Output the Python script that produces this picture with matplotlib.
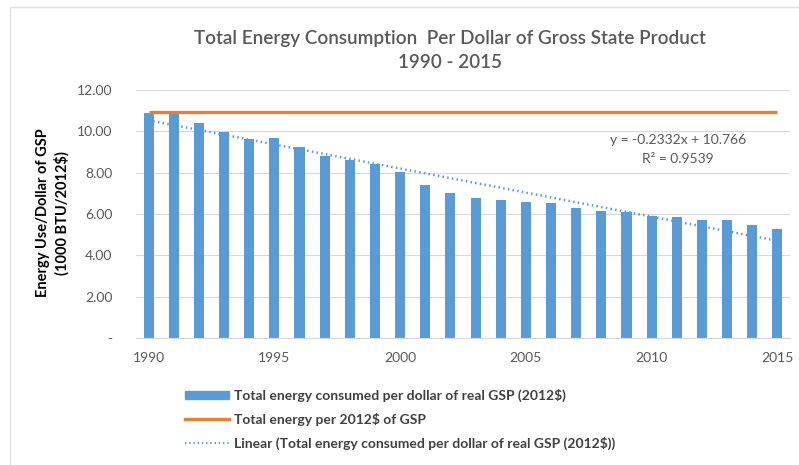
import numpy as np
import matplotlib
matplotlib.use("Agg")
import matplotlib.pyplot as plt
from matplotlib.patches import Rectangle
from matplotlib.lines import Line2D

plt.rcParams['font.family'] = ['Lato', 'DejaVu Sans']

years = list(range(1990, 2016))
energy_per_gsp = [10.90, 10.88, 10.39, 9.98, 9.63, 9.68, 9.24, 8.82, 8.60, 8.42,
                  8.05, 7.40, 7.00, 6.76, 6.69, 6.58, 6.52, 6.31, 6.14, 6.10,
                  5.89, 5.87, 5.72, 5.72, 5.48, 5.26]
benchmark_2012 = 10.95
trend_slope = -0.2332
trend_intercept = 10.766
trend_r2 = 0.9539
xtick_years = [1990, 1995, 2000, 2005, 2010, 2015]
yticks = [0, 2, 4, 6, 8, 10, 12]
ytick_labels = ['-', '2.00', '4.00', '6.00', '8.00', '10.00', '12.00']

BLUE = '#5b9bd5'
ORANGE = '#ed7d31'
GRAY = '#595959'

fig = plt.figure(figsize=(7.99, 4.65), dpi=100)
ax = fig.add_axes([136/799, 1-338/465, (790-136)/799, (338-90)/465])

ax.bar(years, energy_per_gsp, width=0.4, color=BLUE, zorder=2)
ax.plot(years, [benchmark_2012]*len(years), color=ORANGE, lw=2.4, zorder=3,
        solid_capstyle='butt')
xi = np.arange(1, len(years)+1)
ax.plot(years, trend_slope*xi + trend_intercept, color=BLUE, lw=1.8,
        linestyle=(0, (0.6, 1.3)), zorder=4)

ax.set_xlim(1989.5, 2015.5)
ax.set_ylim(0, 12)
ax.set_yticks(yticks)
ax.set_yticklabels(ytick_labels)
ax.set_xticks(xtick_years)
ax.set_xticklabels([str(y) for y in xtick_years])
ax.tick_params(length=0, labelsize=10, colors=GRAY)
ax.tick_params(axis='y', pad=17)
ax.tick_params(axis='x', pad=10)
ax.grid(axis='y', color='#d9d9d9', lw=0.8, zorder=0)
ax.set_axisbelow(True)
for s in ['top', 'right', 'left']:
    ax.spines[s].set_visible(False)
ax.spines['bottom'].set_color('#d9d9d9')

fig.text(678/799, 1-140/465, f'y = {trend_slope}x + {trend_intercept}',
         ha='center', va='center', fontsize=10, color=GRAY)
fig.text(678/799, 1-159/465, f'R² = {trend_r2}', ha='center', va='center',
         fontsize=10, color=GRAY)

fig.text(450/799, 1-38/465, 'Total Energy Consumption  Per Dollar of Gross State Product',
         ha='center', va='center', fontsize=13.6, color=GRAY, fontweight='semibold')
fig.text(450/799, 1-62/465, '1990 - 2015', ha='center', va='center',
         fontsize=13.6, color=GRAY, fontweight='semibold')

fig.text(53/799, 1-213/465, 'Energy Use/Dollar of GSP\n(1000 BTU/2012$)',
         rotation=90, ha='center', va='center', fontsize=10.5,
         fontweight='bold', color='black', linespacing=1.35)

handles = [Rectangle((0, 0), 1, 1, color=BLUE),
           Line2D([], [], color=ORANGE, lw=2.4),
           Line2D([], [], color=BLUE, lw=1.6, linestyle=(0, (0.6, 1.3)))]
labels = ['Total energy consumed per dollar of real GSP (2012$)',
          'Total energy per 2012$ of GSP',
          'Linear (Total energy consumed per dollar of real GSP (2012$))']
leg = fig.legend(handles, labels, loc='upper left',
                 bbox_to_anchor=(172/799, 1-376/465), frameon=False,
                 handlelength=3.2, handleheight=0.5,
                 handletextpad=0.4, labelspacing=0.8, labelcolor='#404040',
                 prop={'weight': 'bold', 'size': 10})

fig.add_artist(Rectangle((10/799, -0.1), 1.0, 1-7/465+0.1, transform=fig.transFigure,
                         fill=False, edgecolor='#e3e3e3', lw=1.0))

fig.savefig('out.png', dpi=100)
